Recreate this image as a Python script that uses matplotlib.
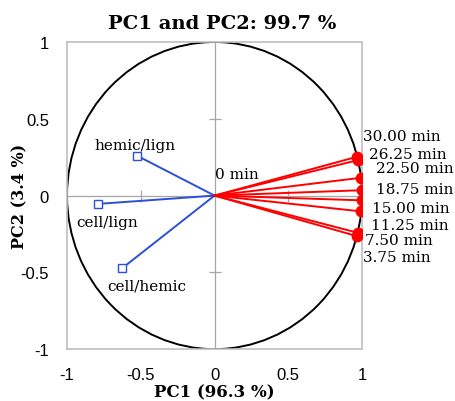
import matplotlib.pyplot as plt
from matplotlib.patches import Circle

# loadings of the time points (red)
times = ["30.00 min", "26.25 min", "22.50 min", "18.75 min",
         "15.00 min", "11.25 min", "7.50 min", "3.75 min"]
pc1_t = [0.967, 0.972, 0.993, 0.998, 0.998, 0.994, 0.970, 0.964]
pc2_t = [0.253, 0.231, 0.116, 0.035, -0.031, -0.103, -0.242, -0.264]

# ratio variables (blue)
ratios = ["hemic/lign", "cell/lign", "cell/hemic"]
pc1_r = [-0.526, -0.787, -0.626]
pc2_r = [0.260, -0.054, -0.473]

# where the labels sit
time_lab_xy = [(1.003, 0.389), (1.049, 0.274), (1.092, 0.180), (1.092, 0.046),
               (1.069, -0.080), (1.060, -0.193), (1.019, -0.291), (1.003, -0.400)]
ratio_lab_xy = [(-0.536, 0.328), (-0.725, -0.169), (-0.461, -0.586)]

serif = ["DejaVu Serif"]
sans = "Liberation Sans"

fig = plt.figure(figsize=(4.56, 4.02), dpi=100)
ax = fig.add_axes([0.147, 0.129, 0.647, 0.764])
ax.set_xlim(-1, 1)
ax.set_ylim(-1, 1)

for s in ax.spines.values():
    s.set_color("#bfbfbf")
    s.set_linewidth(1.2)

ax.axhline(0, color="#a6a6a6", lw=0.9, zorder=1)
ax.axvline(0, color="#a6a6a6", lw=0.9, zorder=1)
# little cross ticks on the centre axes
ax.plot([-0.5, 0.5], [0, 0], ls="none", marker="|", ms=8, mew=0.9, color="#a6a6a6", zorder=1)
ax.plot([0, 0], [-0.5, 0.5], ls="none", marker="_", ms=8, mew=0.9, color="#a6a6a6", zorder=1)

ax.add_patch(Circle((0, 0), 1, fill=False, ec="black", lw=1.4, zorder=2))

for x, y in zip(pc1_r, pc2_r):
    ax.plot([0, x], [0, y], color="#2b4fd8", lw=1.4, zorder=3)
ax.plot(pc1_r, pc2_r, ls="none", marker="s", ms=6, mfc="white", mec="#2b4fd8", mew=1.0, zorder=4)

for x, y in zip(pc1_t, pc2_t):
    ax.plot([0, x], [0, y], color="#ff0000", lw=1.4, zorder=3)
ax.plot(pc1_t, pc2_t, ls="none", marker="o", ms=7.5, color="#ff0000", zorder=4)

for lab, (tx, ty) in zip(times, time_lab_xy):
    ax.text(tx, ty, lab, family=serif, fontsize=11, ha="left", va="center", clip_on=False)
for lab, (tx, ty) in zip(ratios, ratio_lab_xy):
    ax.text(tx, ty, lab, family=serif, fontsize=11, ha="center", va="center")
ax.text(0.0, 0.143, "0 min", family=serif, fontsize=11, ha="left", va="center")

ticks = [-1, -0.5, 0, 0.5, 1]
ax.set_xticks(ticks)
ax.set_yticks(ticks)
ax.set_xticklabels(["-1", "-0.5", "0", "0.5", "1"], family=sans, fontsize=12)
ax.set_yticklabels(["-1", "-0.5", "0", "0.5", "1"], family=sans, fontsize=12)
ax.tick_params(axis="y", length=0, pad=13)
ax.tick_params(axis="x", length=0, pad=13)

ax.set_xlabel("PC1 (96.3 %)", family=serif, fontsize=12, fontweight="bold")
ax.xaxis.set_label_coords(0.5, -0.112)
ax.set_ylabel("PC2 (3.4 %)", family=serif, fontsize=11.5, fontweight="bold")
ax.yaxis.set_label_coords(-0.13, 0.5)
ax.set_title("PC1 and PC2: 99.7 %", family=serif, fontsize=14, fontweight="bold", pad=10, x=0.525)

fig.savefig("out.png", dpi=100)
